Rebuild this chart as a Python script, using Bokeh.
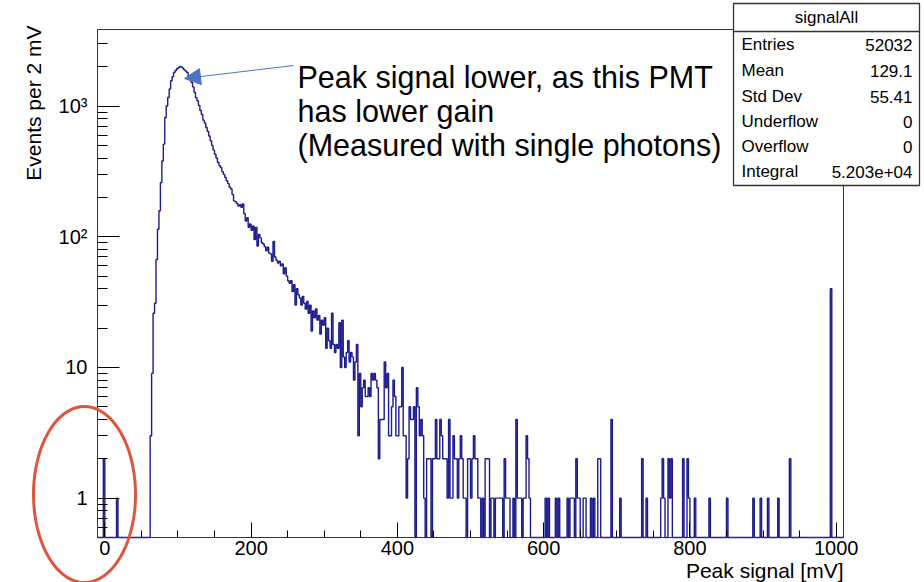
import numpy as np
from bokeh.plotting import figure
from bokeh.models import (FixedTicker, Label, Arrow, NormalHead, PolyAnnotation,
                          BoxAnnotation, Range1d)
from bokeh.embed import file_html
from bokeh.resources import INLINE

# ---------------- data (histogram, 2 mV bins starting at -10 mV) ----------------
BIN_LOW = -10.0
BIN_WIDTH = 2.0
counts = [
    0, 0, 0, 0, 2, 0, 0, 0, 0, 0,                      # -10 .. 8
    0, 0, 0, 1, 0, 0, 0, 0, 0, 0,                      # 10 .. 28
    0, 0, 0, 0, 0, 0, 0, 0, 0, 0,                      # 30 .. 48
    0, 0, 0, 0, 0, 0, 3, 9, 26, 31,                    # 50 .. 68
    67, 114, 158, 260, 380, 511, 816, 1000, 1161, 1350,  # 70 .. 88
    1560, 1680, 1803, 1870, 1930, 1960, 2005, 1990, 1950, 1890,  # 90 .. 108
    1850, 1800, 1700, 1620, 1513, 1400, 1270, 1160, 1098, 1010,  # 110 .. 128
    925, 860, 780, 740, 685, 640, 590, 542, 500, 460,  # 130 .. 148
    428, 400, 370, 350, 339, 315, 300, 284, 268, 255,  # 150 .. 168
    240, 232, 210, 188, 185, 180, 172, 176, 168, 178,  # 170 .. 188
    150, 132, 140, 118, 125, 112, 121, 95, 118, 85,    # 190 .. 208
    104, 98, 90, 88, 84, 78, 83, 75, 74, 65,           # 210 .. 228
    92, 70, 66, 63, 65, 60, 62, 52, 58, 50,            # 230 .. 248
    46, 44, 46, 38, 43, 30, 40, 36, 34, 30,            # 250 .. 268
    35, 31, 28, 32, 26, 30, 19, 27, 24, 28,            # 270 .. 288
    23, 25, 18, 23, 21, 24, 14, 20, 16, 14,            # 290 .. 308
    26, 15, 13, 15, 14, 22, 10, 23, 12, 10,            # 310 .. 328
    13, 16, 11, 13, 12, 8, 11, 15, 3, 9,               # 330 .. 348
    5, 7, 8, 6, 6, 7, 6, 9, 8, 9,                      # 350 .. 368
    8, 7, 2, 4, 4, 4, 11, 7, 9, 3,                     # 370 .. 388
    3, 5, 8, 6, 3, 3, 5, 5, 10, 3,                     # 390 .. 408
    3, 1, 2, 5, 4, 4, 5, 0, 7, 5,                      # 410 .. 428
    3, 4, 3, 1, 0, 2, 2, 2, 0, 2,                      # 430 .. 448
    2, 4, 2, 2, 4, 3, 2, 2, 2, 1,                      # 450 .. 468
    4, 1, 1, 3, 2, 2, 1, 2, 3, 2,                      # 470 .. 488
    1, 1, 0, 2, 2, 1, 2, 3, 2, 2,                      # 490 .. 508
    1, 1, 0, 1, 0, 2, 2, 2, 0, 1,                      # 510 .. 528
    1, 0, 1, 1, 1, 1, 1, 0, 2, 1,                      # 530 .. 548
    1, 1, 0, 0, 1, 0, 4, 1, 1, 1,                      # 550 .. 568
    0, 1, 1, 3, 2, 1, 0, 0, 0, 0,                      # 570 .. 588
    0, 0, 0, 0, 0, 0, 1, 0, 1, 0,                      # 590 .. 608
    0, 0, 0, 1, 0, 1, 0, 0, 0, 0,                      # 610 .. 628
    0, 1, 0, 1, 1, 1, 0, 2, 1, 1,                      # 630 .. 648
    0, 0, 1, 1, 0, 0, 0, 1, 0, 1,                      # 650 .. 668
    0, 0, 2, 2, 0, 0, 0, 0, 0, 0,                      # 670 .. 688
    0, 4, 0, 0, 0, 0, 0, 1, 0, 0,                      # 690 .. 708
    0, 0, 0, 0, 0, 0, 0, 0, 0, 0,                      # 710 .. 728
    0, 0, 2, 0, 0, 1, 0, 0, 0, 0,                      # 730 .. 748
    0, 0, 0, 0, 0, 1, 2, 1, 0, 0,                      # 750 .. 768
    2, 1, 2, 0, 0, 0, 0, 0, 0, 0,                      # 770 .. 788
    2, 0, 0, 2, 1, 0, 0, 0, 1, 0,                      # 790 .. 808
    0, 0, 0, 0, 0, 0, 0, 0, 1, 0,                      # 810 .. 828
    0, 0, 0, 0, 0, 0, 0, 0, 0, 0,                      # 830 .. 848
    1, 0, 0, 0, 0, 0, 0, 0, 0, 0,                      # 850 .. 868
    0, 0, 0, 0, 0, 0, 0, 0, 1, 0,                      # 870 .. 888
    0, 0, 0, 1, 0, 0, 0, 0, 1, 0,                      # 890 .. 908
    0, 0, 0, 0, 0, 1, 0, 0, 0, 0,                      # 910 .. 928
    0, 0, 0, 2, 0, 0, 0, 0, 0, 0,                      # 930 .. 948
    0, 0, 0, 0, 0, 0, 0, 0, 0, 0,                      # 950 .. 968
    0, 0, 0, 0, 0, 0, 0, 0, 0, 0,                      # 970 .. 988
    0, 40, 0, 0, 0, 0, 0, 0, 0, 0,                     # 990 .. 1008
]

x_major_ticks = [0, 200, 400, 600, 800, 1000]
x_minor_ticks = [50, 100, 150, 250, 300, 350, 450, 500, 550, 650, 700, 750, 850, 900, 950]
y_major_ticks = [1, 10, 100, 1000]
y_minor_ticks = [0.6, 0.7, 0.8, 0.9, 2, 3, 4, 5, 6, 7, 8, 9,
                 20, 30, 40, 50, 60, 70, 80, 90,
                 200, 300, 400, 500, 600, 700, 800, 900, 2000, 3000]
y_tick_labels = {1: "1", 10: "10", 100: "10\u00b2", 1000: "10\u00b3"}

stats_title = "signalAll"
stats_names = ["Entries", "Mean", "Std Dev", "Underflow", "Overflow", "Integral"]
stats_values = ["52032", "129.1", "55.41", "0", "0", "5.203e+04"]
note_lines = ["Peak signal lower, as this PMT", "has lower gain", "(Measured with single photons)"]
x_title = "Peak signal [mV]"
y_title = "Events per 2 mV"

# ---------------- layout ----------------
W, H = 924, 582
X_MIN, X_MAX = -10.0, 1010.0          # histogram axis range
Y_MIN, Y_MAX = 0.5, 3850.0            # log axis range
FL, FR, FT, FB = 97, 843, 29, 537     # histogram frame in canvas pixels
FONT = "Liberation Sans"
HIST = "#1c1c8c"

# extend ranges so that the whole canvas is the bokeh frame, with the
# histogram frame sitting at FL..FR / FT..FB
px_per_x = (FR - FL) / (X_MAX - X_MIN)
dec_per_px = (np.log10(Y_MAX) - np.log10(Y_MIN)) / (FB - FT)
xr = Range1d(X_MIN - FL / px_per_x, X_MAX + (W - FR) / px_per_x)
yr = Range1d(10 ** (np.log10(Y_MIN) - (H - FB) * dec_per_px),
             10 ** (np.log10(Y_MAX) + FT * dec_per_px))


def sx(cx):
    return cx


def sy(cy):
    return H - cy


p = figure(width=W, height=H, x_range=xr, y_range=yr,
           y_axis_type="log", output_backend="svg", toolbar_location=None,
           min_border_left=0, min_border_right=0, min_border_top=0, min_border_bottom=0)
p.background_fill_color = "white"
p.border_fill_color = "white"
p.outline_line_color = None
p.xgrid.visible = False
p.ygrid.visible = False

# axes drawn at the histogram frame edges
p.xaxis.fixed_location = Y_MIN
p.yaxis.fixed_location = X_MIN
p.xaxis.bounds = (X_MIN, X_MAX)
p.yaxis.bounds = (Y_MIN, Y_MAX)
p.xaxis.ticker = FixedTicker(ticks=x_major_ticks, minor_ticks=x_minor_ticks)
p.yaxis.ticker = FixedTicker(ticks=y_major_ticks, minor_ticks=y_minor_ticks)
p.yaxis.major_label_overrides = y_tick_labels
for ax in (p.xaxis, p.yaxis):
    ax.axis_line_color = "black"
    ax.major_tick_line_color = "black"
    ax.minor_tick_line_color = "black"
    ax.major_tick_out = 0
    ax.minor_tick_out = 0
    ax.major_label_text_font = FONT
    ax.major_label_text_font_size = "20px"
    ax.major_label_text_color = "black"
p.xaxis.major_tick_in = 15
p.xaxis.minor_tick_in = 7
p.yaxis.major_tick_in = 22
p.yaxis.minor_tick_in = 10
p.xaxis.major_label_standoff = 3
p.yaxis.major_label_standoff = 10

# histogram frame (top / right edges)
p.add_layout(BoxAnnotation(left=X_MIN, right=X_MAX, bottom=Y_MIN, top=Y_MAX,
                           fill_alpha=0, line_color="#333333", line_alpha=1.0, line_width=1))

# histogram outline
c = np.array(counts, dtype=float)
edges = BIN_LOW + BIN_WIDTH * np.arange(len(c) + 1)
yv = np.where(c > 0, c, Y_MIN)
p.step(edges, np.append(yv, yv[-1]), mode="after", line_color=HIST, line_width=1.4)

# axis titles
p.add_layout(Label(x=sx(843), y=sy(570), x_units="screen", y_units="screen", text=x_title,
                   text_font=FONT, text_font_size="21px", text_align="right",
                   text_baseline="middle", text_color="black"))
p.add_layout(Label(x=sx(33), y=sy(25), x_units="screen", y_units="screen", text=y_title,
                   angle=np.pi / 2, text_font=FONT, text_font_size="21px", text_align="right",
                   text_baseline="middle", text_color="black"))

# stats box
bx0, bx1, by0, by1 = 733, 919, 3, 185
p.add_layout(PolyAnnotation(xs=[sx(bx0), sx(bx1), sx(bx1), sx(bx0)],
                            ys=[sy(by0), sy(by0), sy(by1), sy(by1)],
                            xs_units="screen", ys_units="screen",
                            fill_color="white", fill_alpha=1.0,
                            line_color="#333333", line_alpha=1.0, line_width=1.3,
                            level="overlay"))
p.add_layout(PolyAnnotation(xs=[sx(bx0), sx(bx1)], ys=[sy(31), sy(31)],
                            xs_units="screen", ys_units="screen",
                            fill_alpha=0, line_color="#333333", line_alpha=1.0, line_width=1.3,
                            level="overlay"))
p.add_layout(Label(x=sx(826), y=sy(17), x_units="screen", y_units="screen", text=stats_title,
                   text_font=FONT, text_font_size="17px", text_align="center",
                   text_baseline="middle", text_color="black", level="overlay"))
row_y = [44, 70, 96, 121, 146, 171]
for name, val, ry in zip(stats_names, stats_values, row_y):
    p.add_layout(Label(x=sx(741), y=sy(ry), x_units="screen", y_units="screen", text=name,
                       text_font=FONT, text_font_size="17px", text_align="left",
                       text_baseline="middle", text_color="black", level="overlay"))
    p.add_layout(Label(x=sx(912), y=sy(ry), x_units="screen", y_units="screen", text=val,
                       text_font=FONT, text_font_size="17px", text_align="right",
                       text_baseline="middle", text_color="black", level="overlay"))

# annotation text + arrow
for line, by in zip(note_lines, [76, 110, 144]):
    p.add_layout(Label(x=sx(297), y=sy(by), x_units="screen", y_units="screen", text=line,
                       text_font=FONT, text_font_size="30.5px", text_align="left",
                       text_baseline="alphabetic", text_color="black"))
ARROW = "#4a74bd"
p.add_layout(Arrow(x_start=sx(293), y_start=sy(65), x_end=sx(184), y_end=sy(78),
                   start_units="screen", end_units="screen",
                   line_color=ARROW, line_width=1,
                   end=NormalHead(size=16, fill_color=ARROW, line_color=ARROW)))

# red ellipse highlighting the low-signal region
t = np.linspace(0, 2 * np.pi, 160)
ex = 84 + 51 * np.cos(t)
ey = 494 + 88 * np.sin(t)
p.add_layout(PolyAnnotation(xs=[sx(v) for v in ex], ys=[sy(v) for v in ey],
                            xs_units="screen", ys_units="screen",
                            fill_alpha=0, line_color="#e0533d", line_alpha=1.0, line_width=3,
                            level="overlay"))

open("out.html", "w").write(file_html(p, INLINE))
